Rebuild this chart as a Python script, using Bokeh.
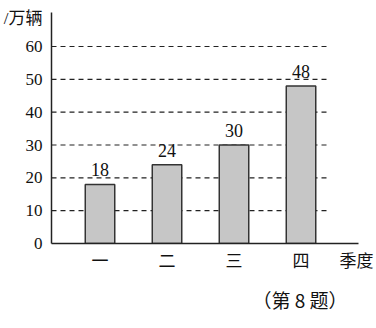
from bokeh.plotting import figure
from bokeh.models import FixedTicker, Title, ColumnDataSource, Range1d
from bokeh.core.properties import value
from bokeh.embed import file_html
from bokeh.resources import INLINE

categories = ["一", "二", "三", "四"]
sales = [18, 24, 30, 48]
y_ticks = [0, 10, 20, 30, 40, 50, 60]
grid_values = [10, 20, 30, 40, 50, 60]
y_unit = "/万辆"
x_title = "季度"
caption = "（第 8 题）"

xs = list(range(1, len(categories) + 1))
src = ColumnDataSource(dict(x=xs, y=sales, lab=[str(v) for v in sales]))

p = figure(width=376, height=328, output_backend="svg", toolbar_location=None,
           x_range=Range1d(0.276, 4.858), y_range=Range1d(0, 70.36),
           min_border_left=51, min_border_right=18, min_border_top=12, min_border_bottom=85)
p.outline_line_color = None
p.xgrid.visible = False
p.ygrid.visible = False
p.background_fill_color = "white"

serif = "Liberation Serif"
cjk = "Noto Sans CJK SC"

gx1 = len(categories) + 0.4
p.segment(x0=[0.276] * len(grid_values), x1=[gx1] * len(grid_values), y0=grid_values, y1=grid_values,
          line_color="#222222", line_width=1.2, line_dash="5 4")

p.vbar(x="x", top="y", width=0.44, source=src, fill_color="#c6c6c6",
       line_color="#333333", line_width=1.5)
p.text(x="x", y="y", text="lab", source=src, text_align="center", text_baseline="bottom",
       text_font=value(serif), text_font_size="18px", text_color="#111111", y_offset=-8)

# y axis: numeric ticks plus the unit label placed at the top of the axis
unit_pos = 68.5
ya = p.yaxis[0]
ya.ticker = FixedTicker(ticks=y_ticks + [unit_pos])
ya.major_label_overrides = {unit_pos: y_unit}
ya.major_tick_line_color = None
ya.minor_tick_line_color = None
ya.major_label_text_font = "Liberation Serif, Noto Sans CJK SC"
ya.major_label_text_font_size = "17px"
ya.major_label_text_color = "#111111"
ya.major_label_standoff = 3
ya.axis_line_color = "#222222"
ya.axis_line_width = 1.5

# x axis: category ticks plus the axis title at the far end
title_pos = 4.83
xa = p.xaxis[0]
xa.ticker = FixedTicker(ticks=xs + [title_pos])
overrides = {i: c for i, c in zip(xs, categories)}
overrides[title_pos] = x_title
xa.major_label_overrides = overrides
xa.major_tick_line_color = None
xa.minor_tick_line_color = None
xa.major_label_text_font = cjk
xa.major_label_text_font_size = "17px"
xa.major_label_text_color = "#111111"
xa.major_label_standoff = -3
xa.axis_line_color = "#222222"
xa.axis_line_width = 1.5

p.add_layout(Title(text=caption, align="left", offset=201, text_font=cjk, text_font_size="19px",
                   text_font_style="normal", text_color="#111111", standoff=18), "below")

open("out.html", "w").write(file_html(p, INLINE))
